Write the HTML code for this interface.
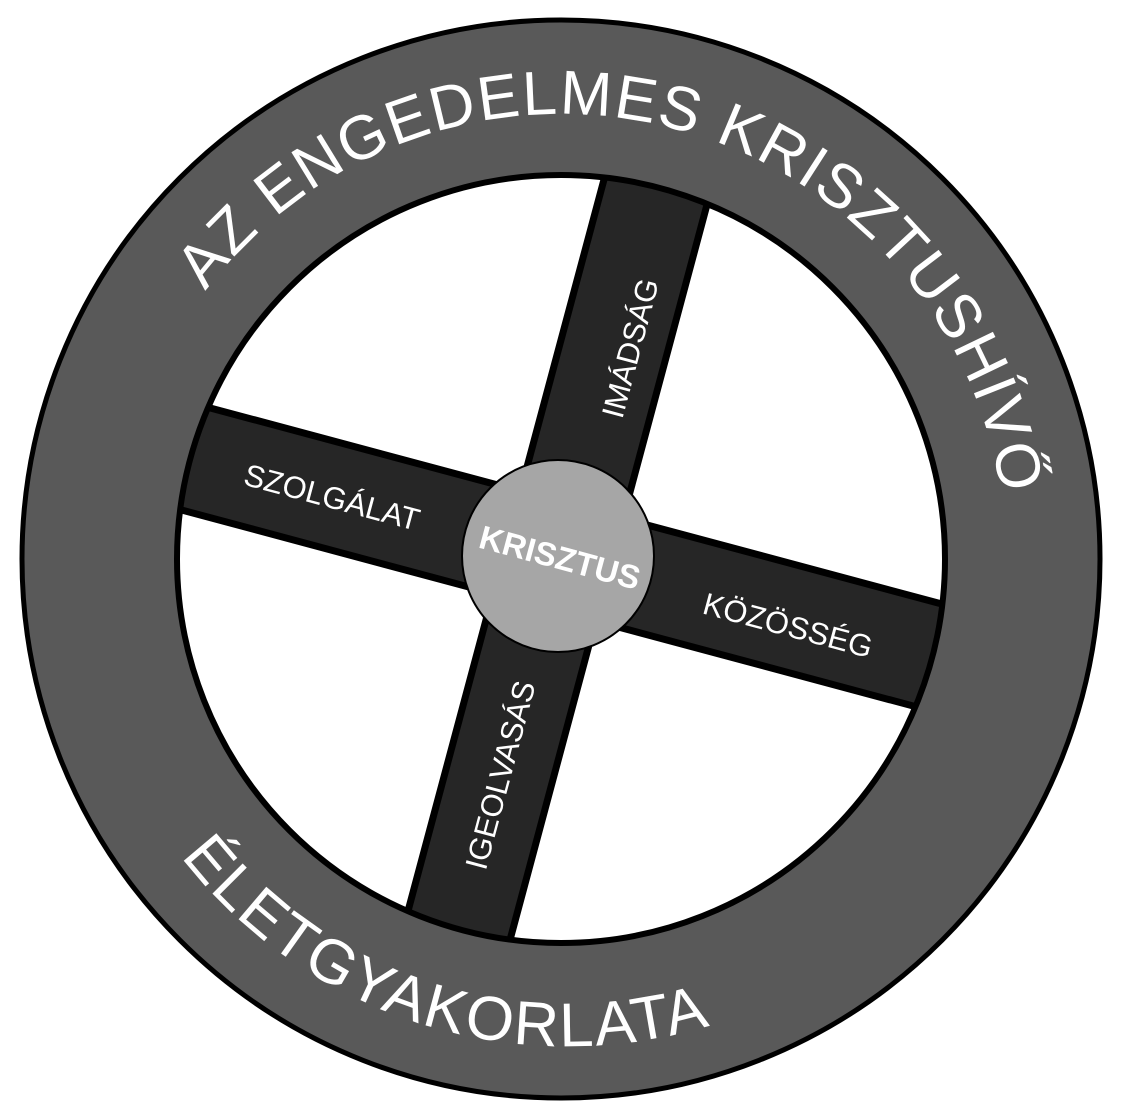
<!DOCTYPE html>
<html><head><meta charset="utf-8"><style>html,body{margin:0;padding:0;background:#fff}svg{display:block}</style></head>
<body>
<svg width="1123" height="1118" viewBox="0 0 1123 1118" xmlns="http://www.w3.org/2000/svg" font-family="Liberation Sans, DejaVu Sans, sans-serif">
<defs>
<path id="top" d="M205.6,291.2 A445,445 0 0 1 1004.3,520.2"/>
<path id="bot" d="M180.9,856.7 A490,490 0 0 0 744.6,1013.3"/>
</defs>
<rect width="1123" height="1118" fill="#fff"/>
<g transform="translate(558,556) rotate(15)">
  <rect x="-53" y="-420" width="106" height="840" fill="#262626" stroke="#000" stroke-width="7"/>
  <rect x="-420" y="-53" width="840" height="106" fill="#262626" stroke="#000" stroke-width="7"/>
</g>
<circle cx="561" cy="559" r="462" fill="none" stroke="#595959" stroke-width="158"/>
<circle cx="561" cy="559" r="539" fill="none" stroke="#000" stroke-width="5"/>
<circle cx="561" cy="559" r="384" fill="none" stroke="#000" stroke-width="6"/>
<circle cx="558" cy="556" r="96" fill="#a6a6a6" stroke="#000" stroke-width="2"/>
<text fill="#fff" font-size="62"><textPath href="#top" textLength="1045" lengthAdjust="spacing">AZ ENGEDELMES KRISZTUSHÍVŐ</textPath></text>
<text fill="#fff" font-size="62"><textPath href="#bot" textLength="590" lengthAdjust="spacing">ÉLETGYAKORLATA</textPath></text>
<g fill="#fff" font-size="31" text-anchor="middle">
<text transform="translate(630,348) rotate(-75)" dy="11">IMÁDSÁG</text>
<text transform="translate(500,775) rotate(-75)" dy="11">IGEOLVASÁS</text>
<text transform="translate(332,497) rotate(15)" dy="11">SZOLGÁLAT</text>
<text transform="translate(788,625) rotate(15)" dy="11">KÖZÖSSÉG</text>
<text transform="translate(560,557) rotate(15)" dy="12" font-weight="bold" font-size="33">KRISZTUS</text>
</g>
</svg>
</body></html>
